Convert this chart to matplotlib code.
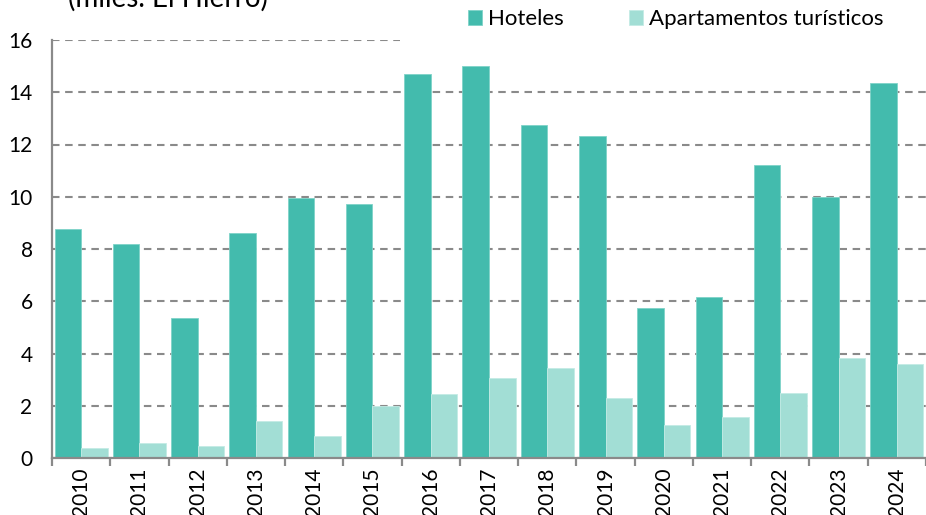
import matplotlib.pyplot as plt
import numpy as np
from matplotlib.patches import Rectangle

plt.rcParams["font.family"] = ["Lato", "DejaVu Sans"]

# Plazas / pernoctaciones (miles) en El Hierro
years = [str(y) for y in range(2010, 2025)]
hoteles = [8.77, 8.19, 5.37, 8.61, 9.95, 9.71, 14.69, 15.02, 12.74, 12.34,
           5.75, 6.15, 11.2, 9.98, 14.34]
apartamentos = [0.37, 0.57, 0.46, 1.40, 0.86, 2.0, 2.45, 3.08, 3.44, 2.29,
                1.25, 1.56, 2.49, 3.84, 3.59]

c_hot = "#43BBAD"
c_apt = "#A2DED5"
grey = "#8A8A8A"

fig = plt.figure(figsize=(9.26, 5.15), dpi=100)
ax = fig.add_axes([52 / 926, 1 - 458 / 515, 874 / 926, 418 / 515])

x = np.arange(len(years))
w = 0.455
ax.bar(x - w / 2, hoteles, w, color=c_hot, edgecolor="#7FD3C8", linewidth=0.6,
       label="Hoteles", zorder=3)
ax.bar(x + w / 2, apartamentos, w, color=c_apt, edgecolor="#C4EBE5", linewidth=0.6,
       label="Apartamentos turísticos", zorder=3)

ax.set_xlim(-0.5, len(years) - 0.5)
ax.set_ylim(0, 16)
ax.set_yticks(np.arange(0, 17, 2))
ax.yaxis.grid(True, color=grey, linestyle=(0, (3.6, 2.7)), linewidth=1.5, zorder=1)
ax.set_axisbelow(True)

# legend area hides the top gridline on the right
ax.add_patch(Rectangle(((400 - 52) / 874, 15.5), 1, 1.0, transform=ax.get_yaxis_transform(),
                       facecolor="white", edgecolor="none", zorder=2, clip_on=False))

ax.set_xticks(x)
ax.set_xticklabels(years, rotation=90, fontsize=15)
ax.set_xticks(np.arange(-0.5, len(years), 1), minor=True)
ax.tick_params(axis="x", which="major", length=0, pad=7)
ax.tick_params(axis="x", which="minor", length=6, width=1.6, color=grey, direction="out")
ax.tick_params(axis="y", length=0, pad=14, labelsize=15)

for s in ["top", "right"]:
    ax.spines[s].set_visible(False)
for s in ["left", "bottom"]:
    ax.spines[s].set_color(grey)
    ax.spines[s].set_linewidth(1.6)
    ax.spines[s].set_zorder(4)

ax.legend(loc="center left", bbox_to_anchor=(468 / 926, 1 - 19 / 515),
          bbox_transform=fig.transFigure, ncol=2, frameon=False, fontsize=16,
          handlelength=0.65, handleheight=0.65, handletextpad=0.27,
          columnspacing=2.9, borderaxespad=0, borderpad=0)

fig.text(68 / 926, 1 - 7 / 515, "(miles. El Hierro)", fontsize=20,
         ha="left", va="baseline")

fig.savefig("out.png", dpi=100)
